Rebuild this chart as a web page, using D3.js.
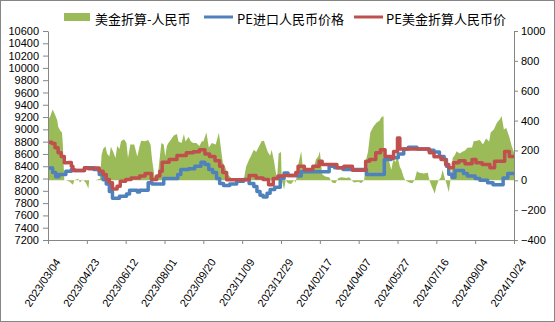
<!DOCTYPE html>
<html>
<head>
<meta charset="utf-8">
<script src="https://cdn.jsdelivr.net/npm/d3@7"></script>
<style>
  body { margin: 0; background: #fff; }
  svg { display: block; }
  .tick text, .lbl { font-family: "Liberation Sans", Arial, sans-serif; font-size: 11px; fill: #000; }
  .legend text { font-family: "Noto Sans CJK SC", sans-serif; font-size: 13px; fill: #000; }
</style>
</head>
<body>
<svg id="chart" width="555" height="322"></svg>
<script>
// Series start date; x values below are day offsets from it
const startDate = "2023-03-04";

const xTickLabels = ["2023/03/04", "2023/04/23", "2023/06/12", "2023/08/01", "2023/09/20",
  "2023/11/09", "2023/12/29", "2024/02/17", "2024/04/07", "2024/05/27", "2024/07/16",
  "2024/09/04", "2024/10/24"];
const leftTicks = [7200, 7400, 7600, 7800, 8000, 8200, 8400, 8600, 8800, 9000, 9200,
  9400, 9600, 9800, 10000, 10200, 10400, 10600];
const rightTicks = [-400, -200, 0, 200, 400, 600, 800, 1000];

const seriesNames = ["美金折算-人民币", "PE进口人民币价格", "PE美金折算人民币价"];

// 美金折算-人民币 (right axis)
const spreadDays = [0, 3, 6, 9, 12, 13, 16, 18, 19, 21, 23, 28, 32, 34, 39, 41, 45, 49, 52, 53,
  61, 67, 69, 71, 74, 76, 79, 81, 84, 87, 89, 92, 94, 98, 101, 103, 106, 111, 115, 118,
  120, 125, 129, 132, 134, 137, 140, 142, 145, 146, 149, 151, 153, 155, 158, 162, 166, 168, 172, 175,
  177, 181, 184, 187, 191, 195, 198, 200, 204, 207, 211, 216, 220, 222, 225, 228, 231, 235, 239, 248,
  252, 255, 259, 261, 265, 268, 272, 275, 278, 281, 283, 286, 288, 291, 294, 295, 297, 300, 301, 304,
  306, 309, 313, 317, 319, 322, 326, 328, 332, 336, 341, 345, 348, 350, 353, 357, 362, 366, 370, 374,
  378, 384, 388, 391, 394, 400, 403, 407, 410, 412, 415, 419, 423, 427, 429, 432, 433, 434, 437, 440,
  442, 445, 447, 450, 453, 455, 458, 460, 465, 469, 472, 475, 478, 484, 489, 491, 494, 498, 500, 503,
  506, 508, 511, 513, 516, 519, 521, 524, 526, 530, 533, 537, 540, 546, 548, 552, 556, 560, 564, 568,
  570, 574, 578, 582, 584, 587, 590, 594, 597, 600];
const spreadValues = [400, 430, 474, 440, 400, 360, 330, 320, 250, 0, 0, -10, -30, 0, 10, -15, 5, -20, -55, 0,
  0, 10, 170, 210, 228, 180, 160, 225, 190, 150, 230, 210, 262, 275, 250, 150, 240, 240, 160, 230,
  265, 262, 270, 240, 140, 30, 10, 60, 205, 250, 240, 160, 230, 250, 270, 300, 310, 260, 250, 310,
  260, 290, 260, 250, 250, 230, 262, 260, 320, 220, 250, 240, 318, 240, 120, 90, 40, 20, 0, -10,
  0, 90, 140, 160, 205, 190, 230, 262, 265, 220, 190, 165, 205, 130, 30, 10, 180, 190, 0, -60,
  0, -20, -25, 0, -15, 100, 195, 90, 80, 60, 55, 140, 160, 195, 40, 25, 20, -15, -20, 15,
  20, 15, 20, 0, -15, -10, -20, 0, 150, 190, 320, 360, 385, 400, 420, 430, 30, 160, 170, 110,
  70, 150, 120, 160, 90, 70, 20, 0, -15, -20, 0, 60, 50, 45, 50, 0, -40, -90, -40, 0,
  20, 70, 10, -20, -80, 30, 150, 170, 195, 180, 190, 200, 218, 220, 262, 265, 270, 240, 280, 260,
  320, 340, 385, 410, 430, 340, 350, 290, 230, 186];

// PE进口人民币价格 (left axis)
const importDays = [0, 6, 10, 14, 23, 30, 34, 47, 59, 66, 71, 75, 79, 83, 92, 101, 105, 115, 118, 129,
  134, 149, 167, 171, 181, 189, 197, 202, 207, 212, 217, 221, 226, 234, 243, 252, 259, 265, 269, 273,
  277, 282, 286, 292, 299, 304, 309, 321, 326, 362, 369, 380, 410, 433, 442, 451, 458, 464, 475, 490,
  497, 504, 510, 513, 516, 520, 524, 535, 540, 550, 556, 566, 573, 586, 592, 600];
const importValues = [8370, 8300, 8230, 8265, 8320, 8345, 8330, 8375, 8345, 8265, 8180, 8110, 7990, 7880, 7910, 7950, 8010, 7980, 8010, 8130,
  8110, 8200, 8265, 8345, 8360, 8400, 8465, 8430, 8345, 8300, 8200, 8120, 8085, 8110, 8155, 8185, 8120, 8070, 7990, 7930,
  7900, 7960, 8020, 8060, 8200, 8290, 8250, 8240, 8310, 8400, 8375, 8345, 8265, 8510, 8540, 8600, 8680, 8710, 8680, 8660,
  8630, 8560, 8510, 8400, 8270, 8220, 8330, 8280, 8240, 8200, 8170, 8130, 8100, 8210, 8280, 8280];

// PE美金折算人民币价 (left axis)
const usdDays = [0, 5, 9, 13, 17, 21, 26, 30, 32, 47, 52, 58, 66, 71, 75, 79, 83, 89, 93, 100,
  107, 118, 125, 133, 140, 144, 147, 156, 166, 178, 187, 195, 202, 208, 215, 221, 225, 230, 259, 268,
  277, 284, 290, 296, 303, 319, 322, 330, 341, 349, 353, 372, 381, 392, 409, 414, 422, 428, 434, 442,
  445, 450, 453, 491, 497, 506, 512, 516, 522, 529, 537, 546, 551, 559, 569, 575, 588, 594, 600];
const usdValues = [8790, 8770, 8700, 8620, 8560, 8455, 8460, 8400, 8330, 8375, 8360, 8370, 8320, 8265, 8185, 8130, 8030, 8075, 8155, 8185,
  8210, 8240, 8280, 8185, 8240, 8320, 8465, 8510, 8575, 8620, 8635, 8670, 8600, 8560, 8490, 8400, 8300, 8180, 8250, 8210,
  8185, 8100, 8200, 8240, 8250, 8300, 8400, 8345, 8400, 8480, 8430, 8375, 8400, 8335, 8480, 8510, 8620, 8670, 8560, 8530,
  8640, 8860, 8680, 8620, 8555, 8510, 8430, 8375, 8455, 8490, 8440, 8510, 8455, 8430, 8375, 8480, 8640, 8560, 8560];

const colors = { spread: "#9BBB59", imp: "#4F81BD", usd: "#C0504D", axis: "#868686" };

const W = 555, H = 322;
const plot = { left: 48, right: 514, top: 31, bottom: 240 };

const svg = d3.select("#chart");
svg.append("rect").attr("width", W).attr("height", H).attr("fill", "#fff");
svg.append("rect").attr("x", 0.5).attr("y", 0.5).attr("width", W - 1).attr("height", H - 1)
  .attr("fill", "none").attr("stroke", colors.axis);

const parse = d3.timeParse("%Y-%m-%d");
const parseTick = d3.timeParse("%Y/%m/%d");
const t0 = parse(startDate);
const toDate = d => d3.timeDay.offset(t0, d);

const x = d3.scaleTime()
  .domain([parseTick(xTickLabels[0]), parseTick(xTickLabels[xTickLabels.length - 1])])
  .range([plot.left, plot.right]);
const yL = d3.scaleLinear().domain([7200, 10600]).range([plot.bottom, plot.top]);
const yR = d3.scaleLinear().domain([-400, 1000]).range([plot.bottom, plot.top]);

const spread = spreadDays.map((d, i) => ({ date: toDate(d), v: spreadValues[i] }));
const imp = importDays.map((d, i) => ({ date: toDate(d), v: importValues[i] }));
const usd = usdDays.map((d, i) => ({ date: toDate(d), v: usdValues[i] }));

// spread area around the zero line of the right axis
svg.append("path").datum(spread)
  .attr("fill", colors.spread)
  .attr("d", d3.area().x(d => x(d.date)).y0(yR(0)).y1(d => yR(d.v)));

const stepLine = scale => d3.line().curve(d3.curveStepAfter).x(d => x(d.date)).y(d => scale(d.v));
svg.append("path").datum(imp)
  .attr("fill", "none").attr("stroke", colors.imp).attr("stroke-width", 3.5)
  .attr("stroke-linejoin", "round").attr("d", stepLine(yL));
svg.append("path").datum(usd)
  .attr("fill", "none").attr("stroke", colors.usd).attr("stroke-width", 3.5)
  .attr("stroke-linejoin", "round").attr("d", stepLine(yL));

// axes
function styleAxis(g) {
  g.selectAll(".domain, .tick line").attr("stroke", colors.axis);
  g.selectAll(".tick text").attr("font-family", null).attr("font-size", null);
}
svg.append("g").attr("transform", `translate(${plot.left},0)`)
  .call(d3.axisLeft(yL).tickValues(leftTicks).tickSize(5).tickSizeOuter(0).tickPadding(4).tickFormat(d3.format("d")))
  .call(styleAxis);
svg.append("g").attr("transform", `translate(${plot.right},0)`)
  .call(d3.axisRight(yR).tickValues(rightTicks).tickSize(4).tickSizeOuter(0).tickPadding(3).tickFormat(d3.format("d")))
  .call(styleAxis);

const xTickDates = xTickLabels.map(parseTick);
const xAxis = svg.append("g").attr("transform", `translate(0,${plot.bottom})`)
  .call(d3.axisBottom(x).tickValues(xTickDates).tickSize(4).tickSizeOuter(0).tickFormat(() => ""))
  .call(styleAxis);
xAxis.selectAll(".tick text").remove();

svg.append("g").selectAll("text").data(xTickLabels).join("text")
  .attr("class", "lbl")
  .attr("text-anchor", "end")
  .attr("transform", d => `translate(${x(parseTick(d)) + 13},${plot.bottom + 22}) rotate(-56)`)
  .text(d => d);

// legend
const legend = svg.append("g").attr("class", "legend");
legend.append("rect").attr("x", 64).attr("y", 13).attr("width", 26).attr("height", 8).attr("fill", colors.spread);
legend.append("text").attr("x", 95).attr("y", 18).attr("dominant-baseline", "central").text(seriesNames[0]);
legend.append("line").attr("x1", 204).attr("x2", 233).attr("y1", 17).attr("y2", 17)
  .attr("stroke", colors.imp).attr("stroke-width", 3);
legend.append("text").attr("x", 237).attr("y", 18).attr("dominant-baseline", "central").text(seriesNames[1]);
legend.append("line").attr("x1", 354).attr("x2", 383).attr("y1", 17).attr("y2", 17)
  .attr("stroke", colors.usd).attr("stroke-width", 3);
legend.append("text").attr("x", 386).attr("y", 18).attr("dominant-baseline", "central").text(seriesNames[2]);
</script>
</body>
</html>
